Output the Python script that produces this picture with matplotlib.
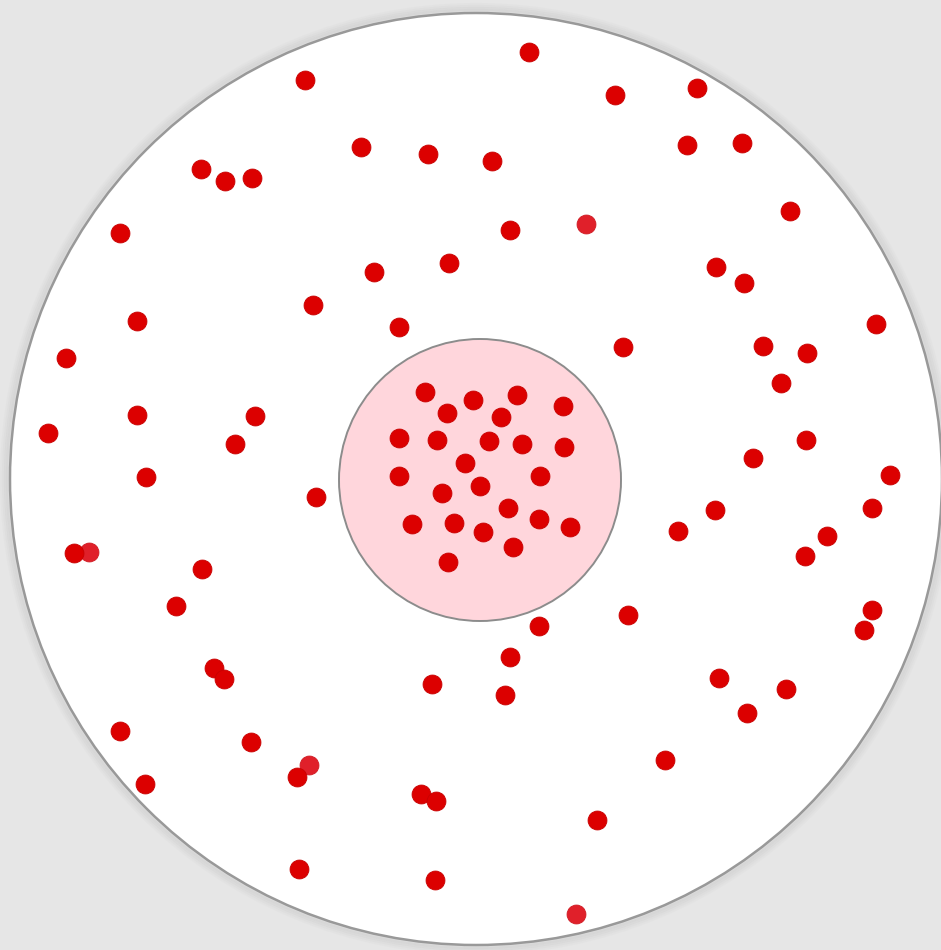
import matplotlib
matplotlib.use("Agg")
import matplotlib.pyplot as plt
from matplotlib.patches import Circle

# outer disc and inner (pink) disc, in image pixel coordinates
outer_center = (476, 479)
outer_radius = 466
inner_center = (480, 480)
inner_radius = 141

# dots outside the pink disc
outer_x = [529, 305, 615, 697, 361, 428, 492, 687, 742, 201, 225, 252, 790, 120, 510,
           374, 449, 716, 744, 137, 313, 399, 876, 66, 623, 763, 807, 781, 137, 255,
           48, 235, 806, 753, 146, 890, 316, 872, 715, 678, 827, 74, 805, 202, 176,
           872, 864, 628, 539, 510, 214, 224, 432, 505, 719, 786, 747, 120, 251, 665,
           297, 145, 421, 436, 597, 299, 435]
outer_y = [52, 80, 95, 88, 147, 154, 161, 145, 143, 169, 181, 178, 211, 233, 230,
           272, 263, 267, 283, 321, 305, 327, 324, 358, 347, 346, 353, 383, 415, 416,
           433, 444, 440, 458, 477, 475, 497, 508, 510, 531, 536, 553, 556, 569, 606,
           610, 630, 615, 626, 657, 668, 679, 684, 695, 678, 689, 713, 731, 742, 760,
           777, 784, 794, 801, 820, 869, 880]

# a few slightly lighter dots
light_x = [586, 89, 309, 576]
light_y = [224, 552, 765, 914]

# dots inside the pink disc
inner_x = [425, 473, 517, 447, 501, 563, 399, 437, 489, 522, 564, 465, 399, 540,
           480, 442, 508, 412, 454, 539, 483, 570, 513, 448]
inner_y = [392, 400, 395, 413, 417, 406, 438, 440, 441, 444, 447, 463, 476, 476,
           486, 493, 508, 524, 523, 519, 532, 527, 547, 562]

fig = plt.figure(figsize=(9.41, 9.50), dpi=100, facecolor="#e6e6e6")
ax = fig.add_axes([0, 0, 1, 1])
ax.set_facecolor("#e6e6e6")
ax.set_xlim(0, 941)
ax.set_ylim(950, 0)
ax.set_aspect("equal")
ax.axis("off")

# soft shadow round the big disc
for i, a in enumerate([0.05, 0.04, 0.03, 0.02]):
    ax.add_patch(Circle(outer_center, outer_radius + 2 + 2 * i, facecolor="none",
                        edgecolor="#b0b0b0", lw=3, alpha=a * 3, zorder=1))

ax.add_patch(Circle(outer_center, outer_radius, facecolor="white",
                    edgecolor="#999999", lw=1.8, zorder=2))
ax.add_patch(Circle(inner_center, inner_radius, facecolor="#ffd6dc",
                    edgecolor="#8c8c8c", lw=1.4, zorder=3))

dot = 185
ax.scatter(light_x, light_y, s=dot, c="#e0202a", edgecolors="#d01a22",
           linewidths=0.6, zorder=4)
ax.scatter(outer_x, outer_y, s=dot, c="#dc0000", edgecolors="#c80000",
           linewidths=0.6, zorder=5)
ax.scatter(inner_x, inner_y, s=dot, c="#dc0000", edgecolors="#c80000",
           linewidths=0.6, zorder=5)

fig.savefig("out.png", dpi=100, facecolor=fig.get_facecolor())
